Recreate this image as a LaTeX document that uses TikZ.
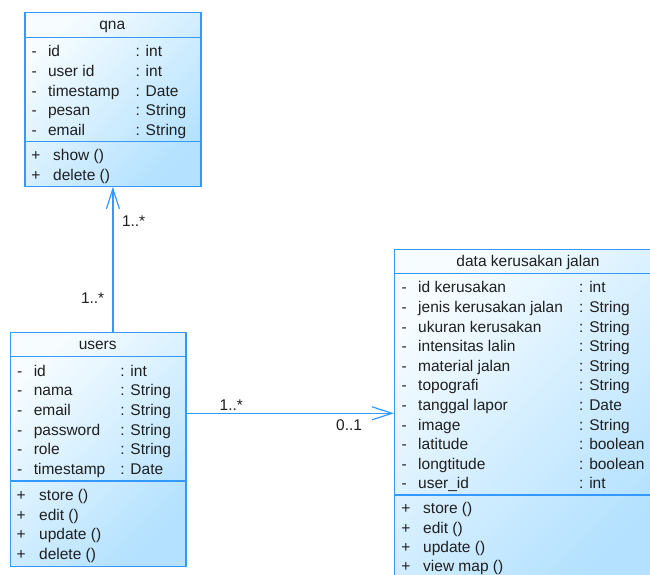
\documentclass[tikz,border=0pt]{standalone}
\usepackage{fontspec}
\setmainfont{Liberation Sans}
\usetikzlibrary{arrows.meta,positioning}
\definecolor{umlblue}{HTML}{3399FF}
\definecolor{umlfill}{HTML}{B3E1FF}
\definecolor{umllight}{HTML}{F6FCFF}

\begin{document}
\begin{tikzpicture}[x=1pt,y=-1pt,>={Straight Barb[length=20pt,width=13pt]},
   every node/.style={font=\fontsize{15.5}{18}\selectfont,inner sep=0pt,text=black!88},
   classbox/.style={draw=umlblue,line width=1.2pt,top color=umllight,
     bottom color=umlfill,shading angle=45,anchor=north west},
   sep/.style={draw=umlblue,line width=1.2pt},
   row/.style={anchor=base west},
   mult/.style={anchor=base west,fill=white,inner sep=1pt},
   assoc/.style={draw=umlblue,line width=1.2pt,->}]
  \useasboundingbox (0,0) rectangle (650,574);

  % qna
  \node (qna) [classbox,minimum width=176pt,minimum height=173.5pt] at (24.3,12.2) {};
  \draw[sep] ([yshift=-25pt]qna.north west) -- ([yshift=-25pt]qna.north east);
  \draw[sep] ([yshift=-129pt]qna.north west) -- ([yshift=-129pt]qna.north east);
  \node (qnat) [anchor=base] at (112.3,29.5) {qna};
  \foreach \n/\t [count=\i] in {id/int, user id/int, timestamp/Date, pesan/String, email/String}{
    \node (qnad\i) [row] at (31.5,37.3+19.6*\i) {-};
    \node (qnan\i) [row] at (47.8,37.3+19.6*\i) {\n};
    \node (qnay\i) [row] at (135.5,37.3+19.6*\i) {: \t};
  }
  \foreach \m [count=\i] in {show (), delete ()}{
    \node (qnap\i) [row] at (31.2,141.3+19.6*\i) {+};
    \node (qnam\i) [row] at (53,141.3+19.6*\i) {\m};
  }

  % users
  \node (users) [classbox,minimum width=175.3pt,minimum height=233.5pt] at (10,332) {};
  \draw[sep] ([yshift=-24.7pt]users.north west) -- ([yshift=-24.7pt]users.north east);
  \draw[sep] ([yshift=-149pt]users.north west) -- ([yshift=-149pt]users.north east);
  \node (userst) [anchor=base] at (97.7,349.3) {users};
  \foreach \n/\t [count=\i] in {id/int, nama/String, email/String, password/String,
      role/String, timestamp/Date}{
    \node (usersd\i) [row] at (17,356.7+19.6*\i) {-};
    \node (usersn\i) [row] at (33.6,356.7+19.6*\i) {\n};
    \node (usersy\i) [row] at (120.2,356.7+19.6*\i) {: \t};
  }
  \foreach \m [count=\i] in {store (), edit (), update (), delete ()}{
    \node (usersp\i) [row] at (16.4,481+19.6*\i) {+};
    \node (usersm\i) [row] at (39,481+19.6*\i) {\m};
  }

  % data kerusakan jalan
  \node (data) [classbox,minimum width=268pt,minimum height=332pt] at (394,249) {};
  \draw[sep] ([yshift=-24.3pt]data.north west) -- ([yshift=-24.3pt]data.north east);
  \draw[sep] ([yshift=-246pt]data.north west) -- ([yshift=-246pt]data.north east);
  \node (datat) [anchor=base] at (528,266) {data kerusakan jalan};
  \foreach \n/\t [count=\i] in {id kerusakan/int, jenis kerusakan jalan/String,
      ukuran kerusakan/String, intensitas lalin/String, material jalan/String,
      topografi/String, tanggal lapor/Date, image/String, latitude/boolean,
      longtitude/boolean, user\_id/int}{
    \node (datad\i) [row] at (401.4,273.3+19.6*\i) {-};
    \node (datan\i) [row] at (418,273.3+19.6*\i) {\n};
    \node (datay\i) [row] at (579,273.3+19.6*\i) {: \t};
  }
  \foreach \m [count=\i] in {store (), edit (), update (), view map ()}{
    \node (datap\i) [row] at (401.2,494.3+19.4*\i) {+};
    \node (datam\i) [row] at (423,494.3+19.4*\i) {\m};
  }

  % associations
  \draw[assoc] (qna.south |- users.north) -- (qna.south);
  \draw[assoc] (users.east |- 0,413.3) -- (data.west |- 0,413.3);
  \node (m1) [mult] at (120.8,226) {1..*};
  \node (m2) [mult] at (79.8,303) {1..*};
  \node (m3) [mult] at (218.5,410) {1..*};
  \node (m4) [mult] at (335,430) {0..1};
\end{tikzpicture}
\end{document}
